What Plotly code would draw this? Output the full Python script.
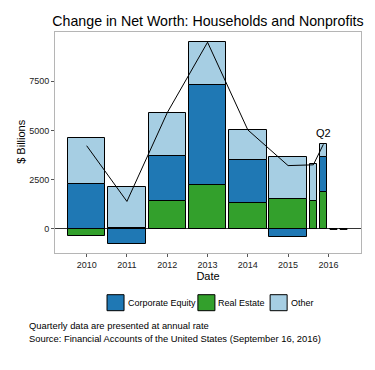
import plotly.graph_objects as go
import datetime as _dt

# ---------------- data ----------------
periods = ["2010", "2011", "2012", "2013", "2014", "2015",
           "2016 Q1", "2016 Q2", "2016 Q3", "2016 Q4"]
period_dates = ["2010-07-01", "2011-07-01", "2012-07-01", "2013-07-01",
                "2014-07-01", "2015-07-01",
                "2016-02-15", "2016-05-16", "2016-08-16", "2016-11-15"]
is_quarter = [False, False, False, False, False, False, True, True, True, True]

real_estate = [-376, 60, 1438, 2250, 1336, 1539, 1438, 1880, 0, 0]
corporate_equity = [2301, -750, 2250, 5065, 2169, -420, -25, 1778, 0, 0]
other = [2301, 2089, 2220, 2164, 1524, 2098, 1844, 640, 0, 0]

total_dates = period_dates[:8]
total_values = [4226, 1399, 5908, 9479, 5029, 3217, 3257, 4298]

tick_dates = ["2010-07-01", "2011-07-01", "2012-07-01", "2013-07-01",
              "2014-07-01", "2015-07-01", "2016-07-01"]
tick_labels = ["2010", "2011", "2012", "2013", "2014", "2015", "2016"]
y_ticks = [0, 2500, 5000, 7500]

legend_names = ["Corporate Equity", "Real Estate", "Other"]

# ---------------- styling ----------------
DAY = 86400000
ANNUAL_W = 340 * DAY
QUARTER_W = 68 * DAY
widths = [QUARTER_W if q else ANNUAL_W for q in is_quarter]

C_EQ = "#1f78b4"
C_RE = "#33a02c"
C_OT = "#a6cee3"
FONT = "Liberation Sans, Arial, sans-serif"

fig = go.Figure()

def add_bar(name, vals, color):
    fig.add_trace(go.Bar(
        x=period_dates, y=vals, width=widths, name=name,
        marker=dict(color=color, line=dict(color="black", width=1)),
        hoverinfo="x+y+name", showlegend=False,
    ))

add_bar("Real Estate", real_estate, C_RE)
add_bar("Corporate Equity", corporate_equity, C_EQ)
add_bar("Other", other, C_OT)

# zero-valued placeholder quarters drawn as outline strokes on the zero line
zx, zy = [], []
for d, q, a, b, c in zip(period_dates, is_quarter, real_estate, corporate_equity, other):
    if q and a == 0 and b == 0 and c == 0:
        center = _dt.datetime.fromisoformat(d)
        half = _dt.timedelta(milliseconds=QUARTER_W / 2)
        zx += [(center - half).isoformat(), (center + half).isoformat(), None]
        zy += [0, 0, None]
fig.add_trace(go.Scatter(x=zx, y=zy, mode="lines", showlegend=False,
                         line=dict(color="black", width=2), hoverinfo="skip"))

fig.add_trace(go.Scatter(x=total_dates, y=total_values, mode="lines",
                         showlegend=False, name="Total",
                         line=dict(color="black", width=1)))

fig.add_annotation(x=total_dates[-1], y=total_values[-1], text="Q2",
                   showarrow=False, yanchor="bottom", yshift=3,
                   font=dict(size=11, color="black", family=FONT))

# ---- legend (drawn as keys + labels below the plot) ----
key_colors = [C_EQ, C_RE, C_OT]
key_x0 = [0.170, 0.467, 0.703]
KEY_W = 0.0556
KEY_Y0, KEY_Y1 = -0.2611, -0.1887
for name, col, x0 in zip(legend_names, key_colors, key_x0):
    fig.add_shape(type="rect", xref="paper", yref="paper",
                  x0=x0, x1=x0 + KEY_W, y0=KEY_Y0, y1=KEY_Y1,
                  fillcolor=col, line=dict(color="black", width=1))
    fig.add_annotation(xref="paper", yref="paper", x=x0 + KEY_W + 0.005,
                       y=(KEY_Y0 + KEY_Y1) / 2, text=name, showarrow=False,
                       xanchor="left", yanchor="middle",
                       font=dict(size=9, color="black", family=FONT))

fig.add_annotation(xref="paper", yref="paper", x=-0.093, y=-0.33,
                   text="Quarterly data are presented at annual rate",
                   showarrow=False, xanchor="left", yanchor="middle",
                   font=dict(size=9.4, color="black", family=FONT))
fig.add_annotation(xref="paper", yref="paper", x=-0.093, y=-0.385,
                   text="Source: Financial Accounts of the United States (September 16, 2016)",
                   showarrow=False, xanchor="left", yanchor="middle",
                   font=dict(size=9.4, color="black", family=FONT))

# y-axis title
fig.add_annotation(xref="paper", yref="paper", x=-0.109, y=0.506,
                   text="$ Billions", textangle=-90, showarrow=False,
                   xanchor="center", yanchor="middle",
                   font=dict(size=11, color="black", family=FONT))

# the page body adds an 8px offset, so the figure is sized to fit inside it
fig.update_layout(
    width=359, height=354,
    margin=dict(l=47, r=6, t=24, b=109, autoexpand=False),
    barmode="relative", bargap=0,
    paper_bgcolor="white", plot_bgcolor="white",
    font=dict(family=FONT, size=9, color="black"),
    title=dict(text="Change in Net Worth: Households and Nonprofits",
               x=0.557, xanchor="center", y=0.963, yanchor="middle",
               font=dict(size=14.2, color="black", family=FONT)),
    showlegend=False,
    xaxis=dict(type="date", range=["2009-09-17", "2017-04-22"],
               automargin=False,
               tickmode="array", tickvals=tick_dates, ticktext=tick_labels,
               ticks="outside", ticklen=3, tickcolor="#555",
               tickfont=dict(size=9, color="#222"),
               showgrid=False, showline=True, linecolor="#b5b5b5",
               linewidth=1, mirror=True, zeroline=False,
               title=dict(text="Date", font=dict(size=11, color="black"),
                          standoff=2)),
    yaxis=dict(range=[-1220, 10000], tickmode="array", tickvals=y_ticks,
               automargin=False,
               ticks="outside", ticklen=3, tickcolor="#555",
               tickfont=dict(size=9, color="#222"),
               showgrid=False, showline=True, linecolor="#b5b5b5",
               linewidth=1, mirror=True,
               zeroline=True, zerolinecolor="#333", zerolinewidth=1),
)

fig.write_html("out.html")
